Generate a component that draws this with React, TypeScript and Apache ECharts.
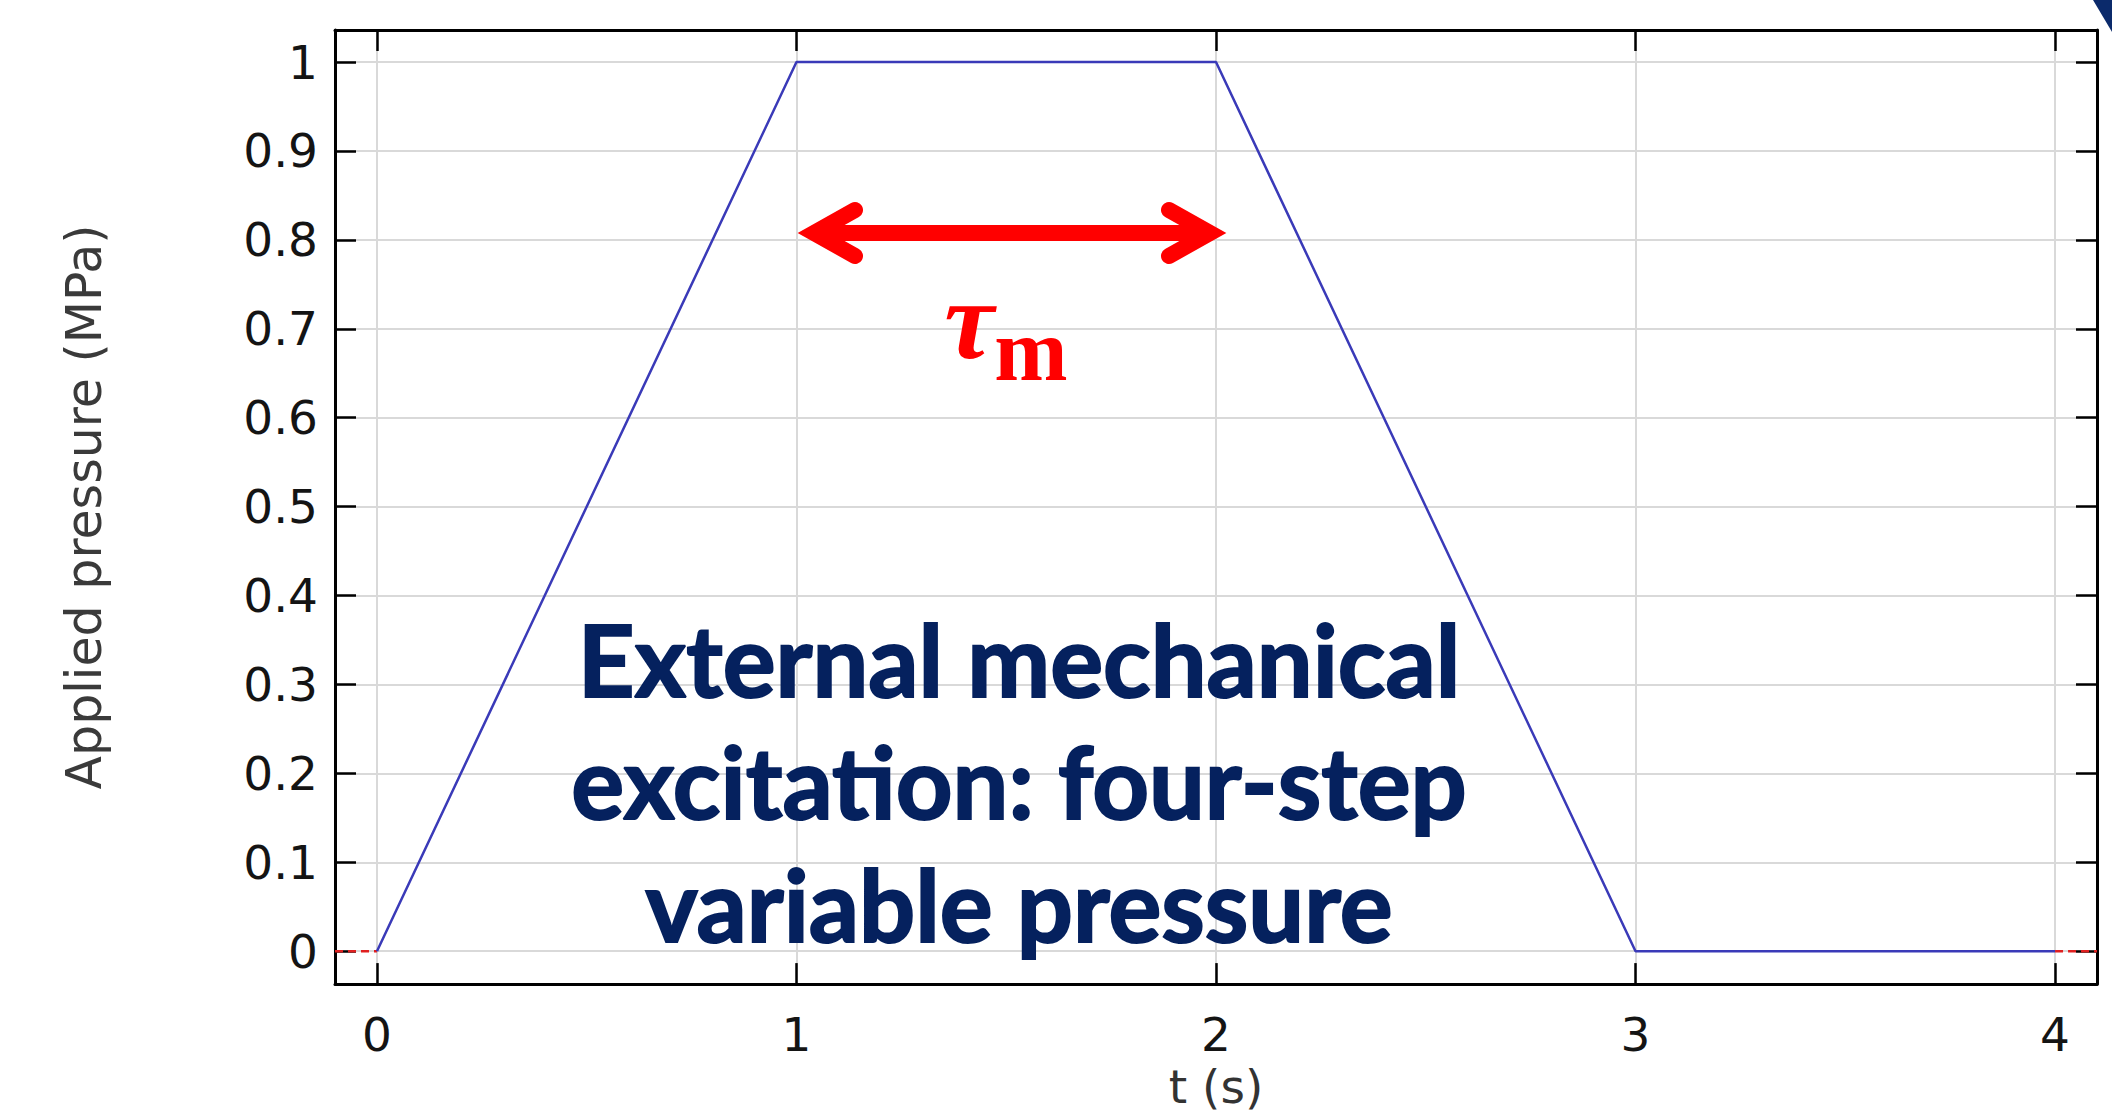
import React, { useEffect, useRef } from "react";
import * as echarts from "echarts";

// ---- data ----
const timeS = [0, 1, 2, 3, 4];
const pressureMPa = [0, 1, 1, 0, 0];
// short leading/trailing stubs of the reference's red baseline curve
const stubTimes = [-0.1, 0, 4, 4.1];
const stubValues = [0, 0, 0, 0];

const xTitle = "t (s)";
const yTitle = "Applied pressure (MPa)";
const noteLines = ["External mechanical", "excitation: four-step", "variable pressure"];

export default function App() {
  const ref = useRef<HTMLDivElement>(null);

  useEffect(() => {
    if (!ref.current) return;
    const chart = echarts.init(ref.current, null, { renderer: "svg" });

    const font = "DejaVu Sans";
    const axisLine = { show: true, onZero: false, lineStyle: { color: "#000", width: 3 } };
    const tickIn = { show: true, inside: true, length: 21, lineStyle: { color: "#000", width: 2.5 } };
    const grid = { show: true, lineStyle: { color: "#d9d9d9", width: 2 } };

    const blueData = timeS.map((t, i) => [t, pressureMPa[i]]);
    const redData = [
      [stubTimes[0], stubValues[0]],
      [stubTimes[1], stubValues[1]],
      ["-", "-"],
      [stubTimes[2], stubValues[2]],
      [stubTimes[3], stubValues[3]],
    ];

    const navy = "#05215e";
    const red = "#ff0000";

    // annotation layout (pixels)
    const noteX = 1019;
    const noteBase = [694, 816, 939];
    const noteSize = 99;

    const graphic: any[] = [
      {
        type: "polygon",
        shape: { points: [[2093, 0], [2112, 0], [2112, 32]] },
        style: { fill: "#0b2a6b" },
        silent: true,
      },
      ...noteLines.map((s, i) => ({
        type: "text",
        x: noteX,
        y: noteBase[i] - noteSize * 0.36,
        scaleX: 1.0,
        style: {
          text: s,
          fill: navy,
          stroke: navy,
          lineWidth: 2,
          font: `bold ${noteSize}px Lato`,
          align: "center",
          verticalAlign: "middle",
        },
        z: 100,
      })),
      // double arrow
      {
        type: "line",
        shape: { x1: 818, y1: 233, x2: 1206, y2: 233 },
        style: { stroke: red, lineWidth: 16 },
        z: 100,
      },
      {
        type: "polyline",
        shape: { points: [[855, 210], [814, 233], [855, 256]] },
        style: { stroke: red, lineWidth: 16, lineCap: "round", lineJoin: "miter", fill: null },
        z: 100,
      },
      {
        type: "polyline",
        shape: { points: [[1169, 210], [1210, 233], [1169, 256]] },
        style: { stroke: red, lineWidth: 16, lineCap: "round", lineJoin: "miter", fill: null },
        z: 100,
      },
      {
        type: "text",
        x: 969,
        y: 376,
        style: {
          text: "\u03C4",
          fill: red,
          font: "italic bold 112px 'Liberation Serif'",
          align: "center",
          verticalAlign: "bottom",
        },
        z: 100,
      },
      {
        type: "text",
        x: 1031,
        y: 394,
        style: {
          text: "m",
          fill: red,
          font: "bold 88px 'Liberation Serif'",
          align: "center",
          verticalAlign: "bottom",
        },
        z: 100,
      },
    ];

    chart.setOption({
      animation: false,
      backgroundColor: "#ffffff",
      grid: { left: 335, right: 15, top: 30, bottom: 129, containLabel: false },
      xAxis: [
        {
          type: "value",
          min: -0.1,
          max: 4.1,
          splitNumber: 4,
          position: "bottom",
          axisLine,
          axisTick: tickIn,
          splitLine: grid,
          axisLabel: {
            fontSize: 47,
            fontFamily: font,
            color: "#141414",
            margin: 27,
            showMinLabel: false,
            showMaxLabel: false,
          },
          name: xTitle,
          nameLocation: "middle",
          nameGap: 77,
          nameTextStyle: { fontSize: 47, fontFamily: font, color: "#333" },
        },
        {
          type: "value",
          min: -0.1,
          max: 4.1,
          splitNumber: 4,
          position: "top",
          axisLine,
          axisTick: tickIn,
          splitLine: { show: false },
          axisLabel: { show: false },
        },
      ],
      yAxis: [
        {
          type: "value",
          min: -0.037,
          max: 1.036,
          splitNumber: 10,
          position: "left",
          axisLine,
          axisTick: tickIn,
          splitLine: grid,
          axisLabel: {
            fontSize: 47,
            fontFamily: font,
            color: "#141414",
            margin: 17,
            showMinLabel: false,
            showMaxLabel: false,
          },
          name: yTitle,
          nameLocation: "middle",
          nameGap: 226,
          nameTextStyle: { fontSize: 49, fontFamily: font, color: "#3a3a3a" },
        },
        {
          type: "value",
          min: -0.037,
          max: 1.036,
          splitNumber: 10,
          position: "right",
          axisLine,
          axisTick: tickIn,
          splitLine: { show: false },
          axisLabel: { show: false },
        },
      ],
      series: [
        {
          type: "line",
          data: redData,
          xAxisIndex: 0,
          yAxisIndex: 0,
          symbol: "none",
          connectNulls: false,
          lineStyle: { color: "#e02020", width: 2.5, type: [8, 5] },
          z: 3,
        },
        {
          type: "line",
          data: blueData,
          xAxisIndex: 0,
          yAxisIndex: 0,
          symbol: "none",
          lineStyle: { color: "#3a3ab8", width: 2.5 },
          z: 4,
        },
      ],
      graphic,
    });

    return () => chart.dispose();
  }, []);

  return (
    <div
      ref={ref}
      style={{ position: "fixed", left: 0, top: 0, width: 2112, height: 1115, background: "#fff" }}
    />
  );
}
